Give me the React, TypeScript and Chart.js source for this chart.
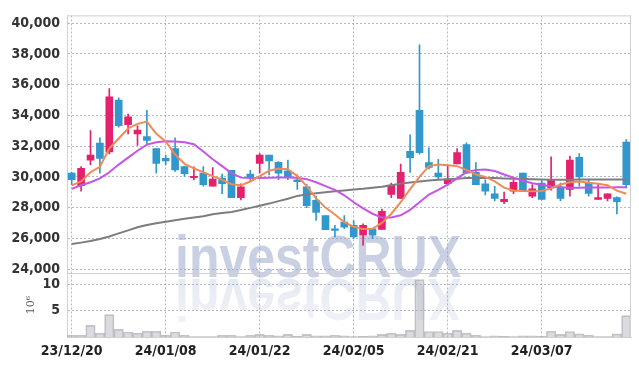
import { useEffect, useRef } from 'react';
import { Chart, registerables } from 'chart.js';

Chart.register(...registerables);

const dates = [
  '23/12/20', '23/12/21', '23/12/22', '23/12/26', '23/12/27', '23/12/28',
  '24/01/02', '24/01/03', '24/01/04', '24/01/05', '24/01/08', '24/01/09', '24/01/10', '24/01/11', '24/01/12',
  '24/01/15', '24/01/16', '24/01/17', '24/01/18', '24/01/19', '24/01/22', '24/01/23', '24/01/24', '24/01/25',
  '24/01/26', '24/01/29', '24/01/30', '24/01/31',
  '24/02/01', '24/02/02', '24/02/05', '24/02/06', '24/02/07', '24/02/08', '24/02/13', '24/02/14', '24/02/15',
  '24/02/16', '24/02/19', '24/02/20', '24/02/21', '24/02/22', '24/02/23', '24/02/26', '24/02/27', '24/02/28',
  '24/02/29',
  '24/03/04', '24/03/05', '24/03/06', '24/03/07', '24/03/08', '24/03/11', '24/03/12', '24/03/13', '24/03/14',
  '24/03/15', '24/03/18', '24/03/19', '24/03/20',
];

const opens = [
  30240, 29430, 31090, 32200, 31630, 34990, 33390, 32800, 32630, 31840,
  31200, 31840, 30670, 29950, 30240, 29390, 29920, 30420, 28640, 30180,
  30880, 31410, 30950, 30390, 29810, 29350, 28470, 27480, 26620, 27050,
  26840, 26200, 26620, 26580, 28860, 28600, 31670, 34330, 30930, 30240,
  29560, 30840, 32100, 30290, 29540, 28900, 28390, 29070, 30240, 28750,
  29600, 29280, 29330, 29180, 31270, 29600, 28540, 28600, 28650, 32270,
];
const highs = [
  30300, 30670, 33010, 32540, 35740, 35140, 34080, 33330, 34330, 31840,
  31410, 32540, 30700, 30650, 30670, 30600, 30180, 30420, 29540, 30420,
  31520, 31410, 31000, 31090, 30130, 29500, 28750, 27480, 26840, 27480,
  27160, 26940, 26620, 27900, 29600, 30840, 32740, 38590, 31890, 31140,
  30770, 31840, 32220, 30930, 29810, 29390, 29010, 29810, 30240, 29500,
  29810, 31310, 29600, 31350, 31520, 29810, 29500, 28900, 28700, 32420,
];
const lows = [
  29500, 29070, 30770, 30240, 31500, 33230, 32800, 32050, 32160, 30240,
  30770, 30350, 30030, 29800, 29390, 29390, 28900, 28640, 28500, 29710,
  30240, 30130, 29810, 29810, 29180, 28000, 27160, 26560, 26090, 26620,
  26000, 25560, 25980, 26580, 28640, 28600, 30290, 31480, 30520, 29880,
  29460, 30840, 30240, 29500, 28820, 28430, 28260, 28900, 29070, 28650,
  28540, 29140, 28430, 28750, 29400, 28750, 28540, 28430, 27580, 29280,
];
const closes = [
  29815, 30560, 31410, 31200, 35210, 33330, 33900, 33050, 32370, 30880,
  31030, 30450, 30200, 30030, 29500, 29860, 29560, 28640, 29350, 29970,
  31410, 31030, 30240, 29970, 29690, 28120, 27690, 26560, 26520, 26730,
  26090, 26840, 26200, 27750, 29460, 30290, 31250, 31580, 30610, 29990,
  29860, 31580, 30240, 29500, 29070, 28600, 28540, 29650, 29070, 29220,
  28540, 29810, 28600, 31090, 29990, 28920, 28650, 28900, 28390, 29500,
];

const maShort = [
  29450, 29700, 30300, 30650, 31850, 32500, 33150, 33450, 33600, 32800,
  32300, 31450, 30850, 30550, 30300, 30050, 29800, 29520, 29450, 29700,
  30050, 30400, 30550, 30500, 30050, 29400, 28600, 28000, 27550, 27050,
  26750, 26600, 26620, 27000, 27600, 28350, 29200, 30000, 30700, 30800,
  30750, 30700, 30450, 30150, 30000, 29700, 29300, 29120, 29080, 29070,
  29080, 29250, 29500, 29650, 29700, 29620, 29550, 29450, 29100, 28900,
];
const maMid = [
  29220, 29450, 29650, 29900, 30300, 30800, 31250, 31700, 32100, 32250,
  32320, 32300, 32250, 32120, 31650, 31150, 30700, 30250, 29950, 29920,
  29930, 29950, 29960, 29960, 29950, 29850, 29650, 29400, 29150, 28800,
  28350, 27950, 27600, 27350, 27360, 27500, 27850, 28350, 28850, 29150,
  29500, 29900, 30300, 30450, 30480, 30380, 30150, 29950, 29750, 29580,
  29480, 29380, 29320, 29290, 29290, 29300, 29300, 29300, 29320, 29330,
];
const maLong = [
  25630, 25720, 25820, 25950, 26120, 26320, 26520, 26720, 26870, 26980,
  27080, 27180, 27280, 27360, 27440, 27560, 27650, 27720, 27840, 27980,
  28120, 28260, 28420, 28580, 28760, 28860, 28940, 29000, 29060, 29120,
  29170, 29220, 29290, 29360, 29460, 29560, 29630, 29700, 29760, 29810,
  29850, 29880, 29920, 29930, 29930, 29920, 29900, 29880, 29860, 29840,
  29830, 29820, 29820, 29820, 29830, 29830, 29830, 29830, 29830, 29830,
];

// volume in millions (10^6)
const volumes = [
  0.3, 0.3, 2.2, 0.75, 4.25, 1.45, 0.95, 0.75, 1.1, 1.1,
  0.35, 0.95, 0.35, 0.1, 0.1, 0.1, 0.3, 0.3, 0.1, 0.3,
  0.5, 0.3, 0.2, 0.5, 0.15, 0.5, 0.2, 0.2, 0.3, 0.2,
  0.1, 0.15, 0.2, 0.5, 0.75, 0.5, 1.25, 10.9, 1.05, 1.05,
  0.75, 1.25, 0.75, 0.35, 0.1, 0.2, 0.15, 0.1, 0.2, 0.2,
  0.15, 1.1, 0.5, 1.05, 0.6, 0.35, 0.1, 0.1, 0.6, 4.05,
];

const priceTicks = [24000, 26000, 28000, 30000, 32000, 34000, 36000, 38000, 40000];
const volumeTicks = [5, 10];
const labelEvery = 10;

const UP = '#e3216c';
const DOWN = '#3297cb';
const GRID = 'rgba(160,165,190,0.8)';
const FRAME = '#cfcfd4';
const DASH = [2, 2];
const TICK_FONT = "'Liberation Sans Narrow', 'DejaVu Sans Condensed', sans-serif";

const watermark = {
  id: 'watermark',
  beforeDatasetsDraw(chart: any) {
    const ctx = chart.ctx as CanvasRenderingContext2D;
    const text = 'investCRUX';
    const size = 50;
    ctx.save();
    ctx.font = `bold ${size}px 'Liberation Sans', sans-serif`;
    const w = ctx.measureText(text).width;
    const sx = 286 / w;
    const sy = 42 / (size * 0.716);
    ctx.translate(175, 277);
    ctx.scale(sx, sy);
    ctx.textBaseline = 'alphabetic';
    ctx.fillStyle = 'rgba(150,162,200,0.5)';
    ctx.fillText(text, 0, 0);
    ctx.scale(1, -1);
    const g = ctx.createLinearGradient(0, 0, 0, -size * 0.75);
    g.addColorStop(0, 'rgba(150,162,200,0.24)');
    g.addColorStop(1, 'rgba(150,162,200,0.14)');
    ctx.fillStyle = g;
    ctx.fillText(text, 0, -2);
    ctx.restore();
  },
};

const frame = {
  id: 'frame',
  afterDraw(chart: any) {
    const ctx = chart.ctx as CanvasRenderingContext2D;
    const a = chart.chartArea;
    const y = chart.scales.y;
    ctx.save();
    ctx.strokeStyle = FRAME;
    ctx.lineWidth = 1;
    ctx.setLineDash([]);
    ctx.beginPath();
    ctx.moveTo(a.left, a.top + 0.5);
    ctx.lineTo(a.right, a.top + 0.5);
    ctx.moveTo(a.right - 0.5, a.top);
    ctx.lineTo(a.right - 0.5, a.bottom);
    ctx.moveTo(a.left, Math.round(y.bottom) + 0.5);
    ctx.lineTo(a.right, Math.round(y.bottom) + 0.5);
    ctx.stroke();
    ctx.restore();
  },
};

export default function App() {
  const ref = useRef<HTMLCanvasElement>(null);

  useEffect(() => {
    const upDown = opens.map((o, i) => (closes[i] >= o ? UP : DOWN));
    const chart = new Chart(ref.current!, {
      type: 'bar',
      data: {
        labels: dates,
        datasets: [
          {
            type: 'line',
            label: 'MA short',
            data: maShort,
            borderColor: '#f08a56',
            borderWidth: 2,
            pointRadius: 0,
            yAxisID: 'y',
            order: 0,
          } as any,
          {
            type: 'line',
            label: 'MA mid',
            data: maMid,
            borderColor: '#c655e6',
            borderWidth: 2,
            pointRadius: 0,
            yAxisID: 'y',
            order: 0,
          } as any,
          {
            type: 'line',
            label: 'MA long',
            data: maLong,
            borderColor: '#7d7d80',
            borderWidth: 2,
            pointRadius: 0,
            yAxisID: 'y',
            order: 0,
          } as any,
          {
            label: 'body',
            data: opens.map((o, i) => [o, closes[i]]),
            backgroundColor: upDown,
            barThickness: 7,
            grouped: false,
            borderSkipped: false,
            yAxisID: 'y',
            order: 1,
          } as any,
          {
            label: 'wick',
            data: lows.map((l, i) => [l, highs[i]]),
            backgroundColor: upDown,
            barThickness: 1,
            grouped: false,
            borderSkipped: false,
            yAxisID: 'y',
            order: 2,
          } as any,
          {
            label: 'volume',
            data: volumes,
            backgroundColor: 'rgba(175,175,185,0.45)',
            borderColor: 'rgba(150,150,160,0.55)',
            borderWidth: 1,
            borderSkipped: 'bottom',
            barPercentage: 1,
            categoryPercentage: 1,
            grouped: false,
            yAxisID: 'y2',
            order: 3,
          } as any,
        ],
      },
      options: {
        responsive: false,
        animation: false,
        devicePixelRatio: 1,
        events: [],
        layout: { padding: { left: 0, right: 8, top: 9, bottom: 0 } },
        plugins: {
          legend: { display: false },
          tooltip: { enabled: false },
        },
        scales: {
          x: {
            type: 'category',
            offset: true,
            grid: {
              offset: false,
              drawTicks: false,
              color: (c: any) => (c.index % labelEvery === 0 ? GRID : 'rgba(0,0,0,0)'),
              lineWidth: 1,
            },
            border: { display: true, color: FRAME, dash: DASH },
            ticks: {
              autoSkip: false,
              maxRotation: 0,
              minRotation: 0,
              padding: 6,
              color: '#222',
              font: { family: TICK_FONT, size: 14, weight: 'bold' },
              callback: (_v: any, i: number) => (i % labelEvery === 0 ? dates[i] : ''),
            },
            afterFit: (s: any) => {
              s.height = 29;
            },
          },
          y2: {
            type: 'linear',
            position: 'left',
            stack: 'panels',
            stackWeight: 65,
            min: 0,
            max: 12.1,
            grid: { drawTicks: false, color: GRID, lineWidth: 1 },
            border: { display: true, color: FRAME, dash: DASH },
            title: {
              display: true,
              text: '10\u2076',
              color: '#555',
              font: { family: "'DejaVu Serif', serif", size: 11 },
              padding: { top: 25, bottom: 0 },
            },
            ticks: {
              autoSkip: false,
              padding: 7,
              color: '#333',
              font: { family: TICK_FONT, size: 14, weight: 'bold' },
            },
            afterBuildTicks: (s: any) => {
              s.ticks = volumeTicks.map((v) => ({ value: v }));
            },
            afterFit: (s: any) => {
              s.width = 67;
            },
          },
          y: {
            type: 'linear',
            position: 'left',
            stack: 'panels',
            stackWeight: 263,
            min: 23725,
            max: 40510,
            grid: { drawTicks: false, color: GRID, lineWidth: 1 },
            border: { display: true, color: FRAME, dash: DASH },
            ticks: {
              autoSkip: false,
              padding: 7,
              color: '#333',
              font: { family: TICK_FONT, size: 14, weight: 'bold' },
              callback: (v: any) => Number(v).toLocaleString('en-US'),
            },
            afterBuildTicks: (s: any) => {
              s.ticks = priceTicks.map((v) => ({ value: v }));
            },
            afterFit: (s: any) => {
              s.width = 67;
            },
          },
        },
      } as any,
      plugins: [watermark, frame],
    });
    return () => chart.destroy();
  }, []);

  return (
    <div style={{ position: 'fixed', left: 0, top: 0, width: 639, height: 366, background: '#fff' }}>
      <canvas ref={ref} width={639} height={366} style={{ display: 'block', width: 639, height: 366 }} />
    </div>
  );
}
